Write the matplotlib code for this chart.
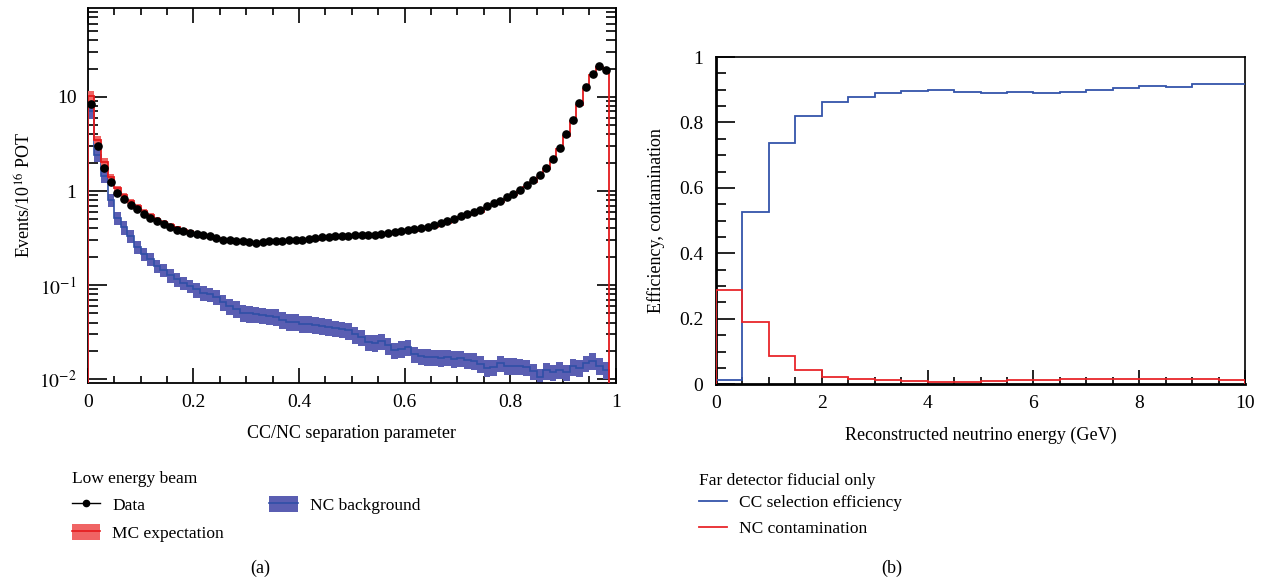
import numpy as np
import matplotlib
matplotlib.use("Agg")
import matplotlib.pyplot as plt
from matplotlib.lines import Line2D
from matplotlib.patches import Patch
from matplotlib.ticker import FixedLocator, LogLocator, MultipleLocator, NullFormatter

plt.rcParams['font.family'] = ['Liberation Serif', 'DejaVu Serif']
plt.rcParams['mathtext.fontset'] = 'stix'

# ---------------- data: panel (a) ----------------
sep_bin_width = 0.0125
data_events = [8.4, 3.0, 1.77, 1.24, 0.945, 0.82, 0.71, 0.64, 0.57, 0.515,
               0.475, 0.445, 0.417, 0.39, 0.375, 0.36, 0.35, 0.34, 0.33,
               0.315, 0.305, 0.301, 0.296, 0.294, 0.289, 0.282, 0.289, 0.294, 0.296,
               0.296, 0.301, 0.305, 0.305, 0.310, 0.318, 0.321, 0.328, 0.332, 0.334,
               0.335, 0.343, 0.340, 0.340, 0.345, 0.349, 0.354, 0.366, 0.375, 0.384,
               0.394, 0.404, 0.418, 0.435, 0.455, 0.48, 0.508, 0.546, 0.575, 0.598,
               0.628, 0.692, 0.739, 0.789, 0.857, 0.936, 1.03, 1.15, 1.30, 1.48,
               1.77, 2.17, 2.89, 4.01, 5.75, 8.59, 12.7, 17.6, 21.3, 19.1]
mc_expectation = [10.3, 3.5, 2.05, 1.40, 1.07, 0.90, 0.78, 0.69, 0.61, 0.55,
                  0.505, 0.468, 0.437, 0.41, 0.39, 0.372, 0.357, 0.345, 0.332, 0.318,
                  0.307, 0.298, 0.292, 0.287, 0.284, 0.282, 0.281, 0.281, 0.282, 0.284,
                  0.287, 0.290, 0.294, 0.298, 0.303, 0.307, 0.312, 0.316, 0.320, 0.324,
                  0.328, 0.332, 0.336, 0.340, 0.345, 0.350, 0.356, 0.363, 0.371, 0.380,
                  0.390, 0.402, 0.418, 0.437, 0.46, 0.487, 0.523, 0.552, 0.574, 0.603,
                  0.664, 0.71, 0.758, 0.823, 0.90, 0.99, 1.10, 1.25, 1.42, 1.70,
                  2.08, 2.78, 3.85, 5.5, 8.25, 12.2, 17.0, 20.6, 19.6]
mc_rel_err = [0.12, 0.10, 0.09, 0.08, 0.07, 0.06, 0.06, 0.05, 0.05, 0.05,
              0.04, 0.04, 0.04, 0.04, 0.04, 0.04, 0.04, 0.04, 0.04, 0.04,
              0.03, 0.03, 0.03, 0.03, 0.03, 0.03, 0.03, 0.03, 0.03, 0.03,
              0.03, 0.03, 0.03, 0.03, 0.03, 0.03, 0.03, 0.03, 0.03, 0.03,
              0.03, 0.03, 0.03, 0.03, 0.03, 0.03, 0.03, 0.03, 0.03, 0.03,
              0.03, 0.03, 0.03, 0.03, 0.03, 0.03, 0.03, 0.03, 0.03, 0.03,
              0.03, 0.03, 0.03, 0.03, 0.03, 0.03, 0.03, 0.03, 0.03, 0.03,
              0.03, 0.03, 0.03, 0.03, 0.03, 0.03, 0.03, 0.03, 0.03]
nc_background = [7.0, 2.4, 1.45, 0.8, 0.52, 0.41, 0.335, 0.255, 0.215, 0.19,
                 0.16, 0.146, 0.127, 0.115, 0.106, 0.099, 0.090, 0.083, 0.080, 0.075,
                 0.066, 0.060, 0.056, 0.051, 0.050, 0.049, 0.048, 0.047, 0.046, 0.043,
                 0.041, 0.041, 0.039, 0.039, 0.038, 0.037, 0.036, 0.035, 0.034,
                 0.033, 0.030, 0.028, 0.0248, 0.0245, 0.0255, 0.0229, 0.0203, 0.0211, 0.022,
                 0.0184, 0.0176, 0.0174, 0.0172, 0.017, 0.0172, 0.0165, 0.0168, 0.016, 0.0157,
                 0.0146, 0.0132, 0.0135, 0.0148, 0.014, 0.014, 0.0138, 0.0135, 0.0122, 0.0106,
                 0.0124, 0.0119, 0.0126, 0.0119, 0.0137, 0.0132, 0.0148, 0.0158, 0.014, 0.0126]
nc_rel_err = [0.16, 0.16, 0.16, 0.16, 0.16, 0.16, 0.16, 0.16, 0.16, 0.16,
              0.16, 0.16, 0.16, 0.16, 0.16, 0.16, 0.18, 0.18, 0.18, 0.18,
              0.2, 0.2, 0.2, 0.2, 0.2, 0.2, 0.2, 0.2, 0.2, 0.2,
              0.2, 0.2, 0.2, 0.2, 0.2, 0.2, 0.2, 0.2, 0.2, 0.2,
              0.2, 0.2, 0.2, 0.2, 0.2, 0.2, 0.2, 0.2, 0.2, 0.2,
              0.2, 0.2, 0.2, 0.2, 0.2, 0.2, 0.2, 0.2, 0.2, 0.2,
              0.2, 0.2, 0.2, 0.2, 0.2, 0.2, 0.2, 0.2, 0.2, 0.2,
              0.2, 0.2, 0.2, 0.2, 0.2, 0.2, 0.2, 0.2, 0.2]
sep_xticks = [0, 0.2, 0.4, 0.6, 0.8, 1]
sep_xticklabels = ['0', '0.2', '0.4', '0.6', '0.8', '1']
sep_yticks = [0.01, 0.1, 1, 10]
sep_yticklabels = ['$10^{-2}$', '$10^{-1}$', '1', '10']

# ---------------- data: panel (b) ----------------
energy_bin_width = 0.5
cc_efficiency = [0.012, 0.527, 0.738, 0.821, 0.862, 0.879, 0.891, 0.896, 0.900, 0.894,
                 0.890, 0.892, 0.891, 0.894, 0.898, 0.904, 0.910, 0.908, 0.917, 0.918]
nc_contamination = [0.288, 0.190, 0.0875, 0.0427, 0.0233, 0.0152, 0.0121, 0.0091, 0.0081, 0.0081,
                    0.011, 0.013, 0.013, 0.015, 0.016, 0.015, 0.015, 0.016, 0.015, 0.014]
en_xticks = [0, 2, 4, 6, 8, 10]
en_xticklabels = ['0', '2', '4', '6', '8', '10']
en_yticks = [0, 0.2, 0.4, 0.6, 0.8, 1]
en_yticklabels = ['0', '0.2', '0.4', '0.6', '0.8', '1']

# ---------------- styling ----------------
RED_BAND = '#f06464'
RED_LINE = '#e41a1c'
BLUE_BAND = '#5a5eb2'
BLUE_LINE = '#2f4fa6'
EFF_BLUE = '#3454aa'
CON_RED = '#e8262b'
FS_TICK = 14
FS_LAB = 13
FS_LEG = 12.5

W, H = 1262, 580
fig = plt.figure(figsize=(W / 100, H / 100), dpi=100)


def fx(px):
    return px / W


def fy(py):
    return 1 - py / H


# ===== panel (a) =====
ax1 = fig.add_axes([fx(87.7), fy(382.7), fx(615.7) - fx(87.7), fy(8) - fy(382.7)])
nb = len(data_events)
sep_edges = np.arange(nb + 1) * sep_bin_width
sep_centers = (np.arange(nb) + 0.5) * sep_bin_width
mc = np.array(mc_expectation)
mce = np.array(mc_rel_err)
nc = np.array(nc_background)
nce = np.array(nc_rel_err)

ax1.stairs(nc * (1 + nce), sep_edges, baseline=nc * (1 - nce), fill=True,
           color=BLUE_BAND, lw=0, zorder=2)
ax1.stairs(nc, sep_edges, baseline=1e-4, color=BLUE_LINE, lw=1.2, zorder=3)
ax1.stairs(mc * (1 + mce), sep_edges, baseline=mc * (1 - mce), fill=True,
           color=RED_BAND, lw=0, zorder=4)
ax1.stairs(mc, sep_edges, baseline=1e-4, color=RED_LINE, lw=1.3, zorder=5)
ax1.plot(sep_centers, data_events, 'o', color='black', ms=5.2, zorder=6)

ax1.set_yscale('log')
ax1.set_xlim(0, 1)
ax1.set_ylim(0.0092, 88)
ax1.yaxis.set_major_locator(FixedLocator(sep_yticks))
ax1.set_yticklabels(sep_yticklabels)
ax1.yaxis.set_minor_locator(LogLocator(base=10, subs=np.arange(2, 10)))
ax1.yaxis.set_minor_formatter(NullFormatter())
ax1.set_xticks(sep_xticks)
ax1.set_xticklabels(sep_xticklabels)
ax1.xaxis.set_minor_locator(MultipleLocator(0.05))
ax1.tick_params(which='both', direction='in', top=True, right=True,
                labelsize=FS_TICK, width=1.2)
ax1.tick_params(axis='y', which='major', length=14, pad=8)
ax1.tick_params(axis='y', which='minor', length=7)
ax1.tick_params(axis='x', which='major', length=11, pad=8)
ax1.tick_params(axis='x', which='minor', length=5)
for s in ax1.spines.values():
    s.set_linewidth(1.3)
ax1.set_xlabel('CC/NC separation parameter', fontsize=FS_LAB, labelpad=10)
ax1.set_ylabel('Events/10$^{16}$ POT', fontsize=FS_LAB, labelpad=3)

# ===== panel (b) =====
ax2 = fig.add_axes([fx(716), fy(384.3), fx(1245) - fx(716), fy(57) - fy(384.3)])
ne = len(cc_efficiency)
en_edges = np.arange(ne + 1) * energy_bin_width
ax2.stairs(cc_efficiency, en_edges, baseline=None, color=EFF_BLUE, lw=1.3, zorder=3)
ax2.stairs(nc_contamination, en_edges, baseline=0, color=CON_RED, lw=1.3, zorder=4)
ax2.set_xlim(0, 10)
ax2.set_ylim(0, 1)
ax2.set_xticks(en_xticks)
ax2.set_xticklabels(en_xticklabels)
ax2.set_yticks(en_yticks)
ax2.set_yticklabels(en_yticklabels)
ax2.xaxis.set_minor_locator(MultipleLocator(0.5))
ax2.yaxis.set_minor_locator(MultipleLocator(0.05))
ax2.tick_params(which='both', direction='in', top=False, right=False,
                labelsize=FS_TICK, width=1.2)
ax2.tick_params(axis='y', which='major', length=14, pad=9)
ax2.tick_params(axis='y', which='minor', length=7)
ax2.tick_params(axis='x', which='major', length=10, pad=8)
ax2.tick_params(axis='x', which='minor', length=5)
for s in ax2.spines.values():
    s.set_linewidth(1.2)
ax2.spines['left'].set_linewidth(2)
ax2.spines['bottom'].set_linewidth(2)
ax2.set_xlabel('Reconstructed neutrino energy (GeV)', fontsize=FS_LAB, labelpad=10)
ax2.set_ylabel('Efficiency, contamination', fontsize=FS_LAB, labelpad=10)

# ===== legends =====
h_data = Line2D([], [], color='black', marker='o', ms=4.5, lw=1)
h_mc = (Patch(facecolor=RED_BAND, edgecolor='none'), Line2D([], [], color=RED_LINE, lw=1.2))
h_nc = (Patch(facecolor=BLUE_BAND, edgecolor='none'), Line2D([], [], color=BLUE_LINE, lw=1.2))
leg1 = fig.legend([h_data, h_mc, h_nc], ['Data', 'MC expectation', 'NC background'],
                  ncol=2, title='Low energy beam', alignment='left', frameon=False,
                  loc='upper left', bbox_to_anchor=(fx(63), fy(462)), borderpad=0,
                  fontsize=FS_LEG, title_fontsize=FS_LEG, handlelength=1.65,
                  handleheight=1.05, handletextpad=0.7, labelspacing=0.55,
                  columnspacing=2.6)

h_eff = Line2D([], [], color=EFF_BLUE, lw=1.3)
h_con = Line2D([], [], color=CON_RED, lw=1.3)
leg2 = fig.legend([h_eff, h_con], ['CC selection efficiency', 'NC contamination'],
                  ncol=1, title='Far detector fiducial only', alignment='left', frameon=False,
                  loc='upper left', bbox_to_anchor=(fx(690), fy(464)), borderpad=0,
                  fontsize=FS_LEG, title_fontsize=FS_LEG, handlelength=1.65,
                  handletextpad=0.7, labelspacing=0.55)
leg2._legend_box.sep = 4.6

fig.text(fx(260), fy(568), '(a)', ha='center', va='center', fontsize=FS_LAB)
fig.text(fx(892), fy(568), '(b)', ha='center', va='center', fontsize=FS_LAB)

fig.savefig('out.png', dpi=100)
